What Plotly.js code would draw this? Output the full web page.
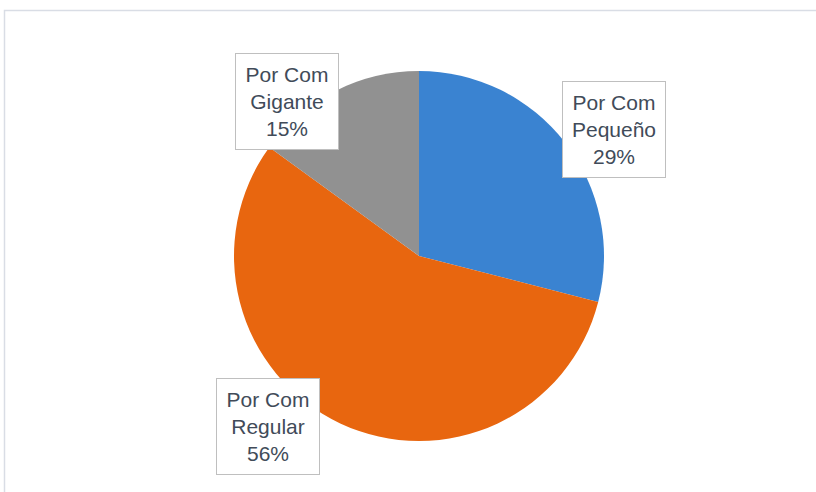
<!DOCTYPE html>
<html>
<head>
<meta charset="utf-8">
<script src="https://cdn.plot.ly/plotly-3.0.1.min.js"></script>
<style>html,body{margin:0;padding:0;background:#fff;}#chart{width:816px;height:492px;}</style>
</head>
<body>
<div id="chart"></div>
<script>
const categories = ["Por Com Pequeño", "Por Com Regular", "Por Com Gigante"];
const values = [29, 56, 15];
const sliceColors = ["#3a83d1", "#e8660f", "#919191"];

const W = 816, H = 492;
// label box centres (pixels)
const labelPos = [[614, 130], [268, 426], [287, 101]];

const total = values.reduce((a, b) => a + b, 0);
function labelText(name, v) {
  const i = name.lastIndexOf(" ");
  return name.slice(0, i) + "<br>" + name.slice(i + 1) + "<br>" + Math.round(100 * v / total) + "%";
}

const annotations = categories.map((c, i) => ({
  xref: "paper", yref: "paper",
  x: labelPos[i][0] / W, y: 1 - labelPos[i][1] / H,
  xanchor: "center", yanchor: "middle",
  text: labelText(c, values[i]),
  showarrow: false,
  align: "center",
  width: 100, height: 93,
  bgcolor: "#ffffff",
  bordercolor: "#bfbfbf",
  borderwidth: 1,
  font: {family: "Liberation Sans, Arial, sans-serif", size: 21, color: "#414b59"}
}));

const cx = 419, cy = 256, r = 185;
const trace = {
  type: "pie",
  labels: categories,
  values: values,
  sort: false,
  direction: "clockwise",
  rotation: 0,
  marker: {colors: sliceColors, line: {width: 0}},
  textinfo: "none",
  hoverinfo: "label+percent",
  domain: {x: [(cx - r) / W, (cx + r) / W], y: [1 - (cy + r) / H, 1 - (cy - r) / H]}
};

const layout = {
  width: W, height: H,
  margin: {l: 0, r: 0, t: 0, b: 0},
  paper_bgcolor: "#ffffff",
  showlegend: false,
  annotations: annotations,
  shapes: [{
    type: "rect", xref: "paper", yref: "paper",
    x0: 4.5 / W, x1: 1.02, y0: -0.05, y1: 1 - 10.5 / H,
    line: {color: "#d9dde5", width: 1.5}, fillcolor: "rgba(0,0,0,0)"
  }]
};

Plotly.newPlot("chart", [trace], layout, {displayModeBar: false, staticPlot: true});
</script>
</body>
</html>
